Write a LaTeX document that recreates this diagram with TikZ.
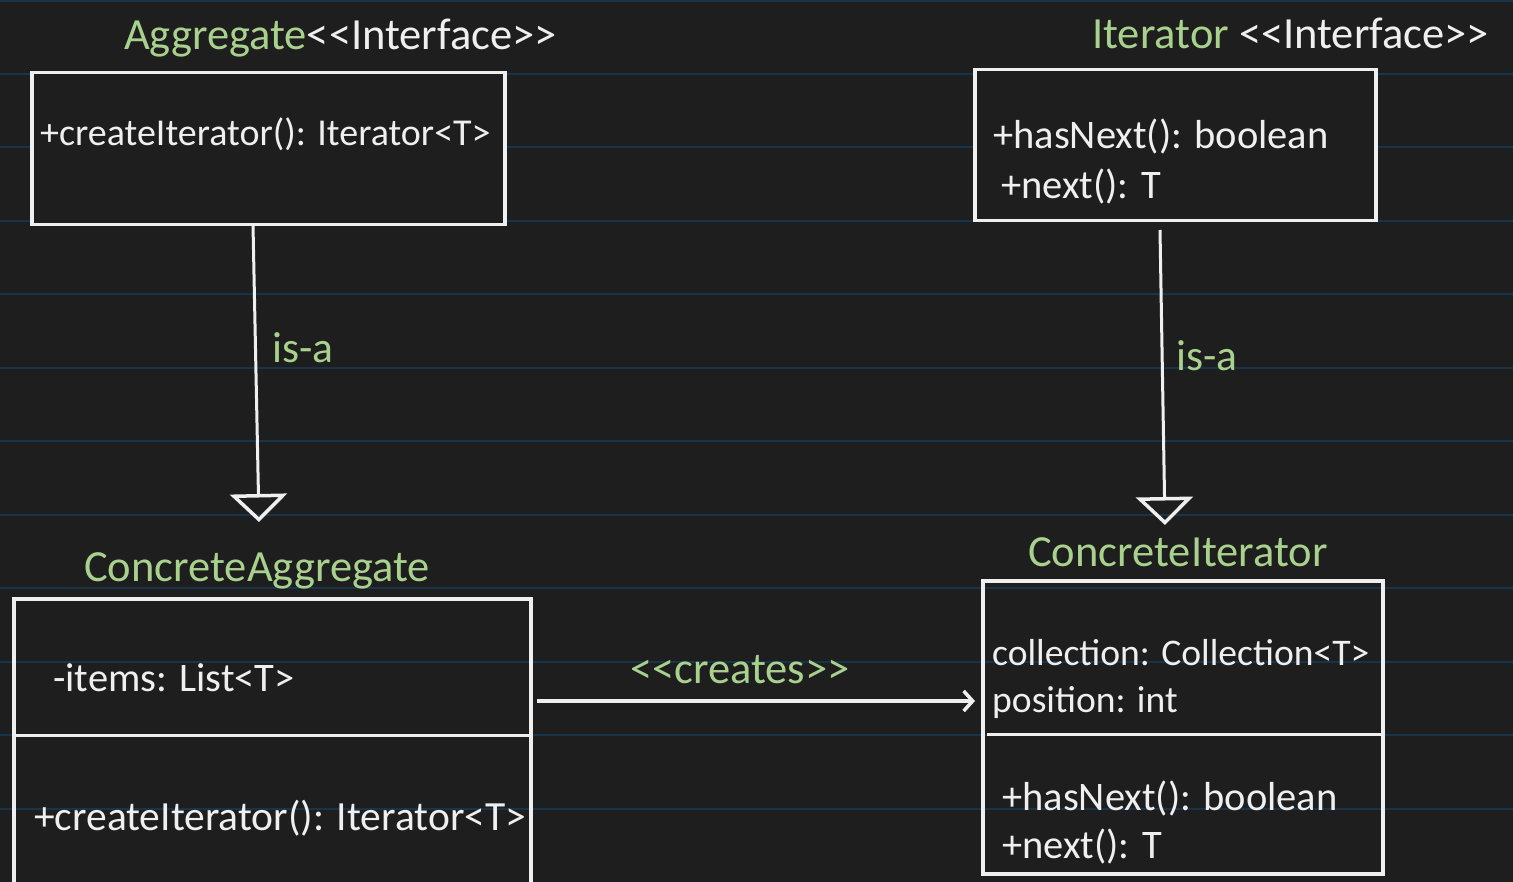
\documentclass[tikz,border=0pt]{standalone}
\usepackage{fontspec}
\setmainfont{Carlito}[Ligatures=TeXOff]
\usetikzlibrary{arrows.meta}
\definecolor{bg}{HTML}{1E1E1E}
\definecolor{gridc}{HTML}{17344A}
\definecolor{lgreen}{HTML}{A9D18E}
\definecolor{fg}{HTML}{EFEFEF}
\begin{document}
\begin{tikzpicture}[x=1pt,y=-1pt,
  box/.style={draw=fg, line width=3.5pt, fill=bg, inner sep=0pt, anchor=north west},
  obox/.style={draw=fg, line width=3.5pt, inner sep=0pt, anchor=north west},
  txt/.style={text=fg, inner sep=0pt, anchor=base west, font=\fontsize{40.5}{48}\selectfont},
  gtxt/.style={text=lgreen, inner sep=0pt, anchor=base west, font=\fontsize{44.5}{52}\selectfont},
  isa/.style={draw=fg, line width=3pt, -{Triangle[open, length=28pt, width=57pt, line width=3.5pt]}},
  creates/.style={draw=fg, line width=3.5pt, -{Straight Barb[length=9pt, width=20pt, line width=3.5pt]}},
  divider/.style={draw=fg, line width=3pt}]
\fill[bg] (0,0) rectangle (1513,882);
\useasboundingbox (0,0) rectangle (1513,882);
\clip (0,0) rectangle (1513,882);
\foreach \y in {1,74,147,221,294,368,441,515,588,662,735,809}
  \draw[gridc, line width=1.5pt] (0,\y) -- (1513,\y);

% top boxes
\node[box, minimum width=473pt, minimum height=152pt] (agg) at (30,71) {};
\node[box, minimum width=401pt, minimum height=151pt] (it) at (973,68) {};
% bottom boxes
\node[obox, minimum width=517pt, minimum height=320pt] (cagg) at (12,597) {};
\node[obox, minimum width=400pt, minimum height=293pt] (cit) at (981,579) {};
\coordinate (caggdl) at (12,735);
\coordinate (caggdr) at (529,735);
\draw[divider] (caggdl) -- (caggdr);
\coordinate (citdl) at (987,734);
\coordinate (citdr) at (1381,734);
\draw[divider] (citdl) -- (citdr);

% titles
\node[gtxt] (aggt) at (124,50) {Aggregate\textcolor{fg}{<<Interface>>}};
\node[gtxt] (itt) at (1092,49) {Iterator \textcolor{fg}{<<Interface>>}};
\node[gtxt] (caggt) at (84,581) {ConcreteAggregate};
\node[gtxt] (citt) at (1028,566) {ConcreteIterator};

% box texts
\node[txt, font=\fontsize{38}{46}\selectfont] (agg1) at (40,146) {+createIterator(): Iterator<T>};
\node[txt] (it1) at (993,149) {+hasNext(): boolean};
\node[txt] (it2) at (1001,199) {+next(): T};
\node[txt] (cagg1) at (53,691) {-items: List<T>};
\node[txt, font=\fontsize{41.5}{48}\selectfont] (cagg2) at (34,830) {+createIterator(): Iterator<T>};
\node[txt, font=\fontsize{37.6}{46}\selectfont] (cit1) at (992,665) {collection: Collection<T>};
\node[txt, font=\fontsize{37.6}{46}\selectfont] (cit2) at (992,712) {position: int};
\node[txt] (cit3) at (1002,810) {+hasNext(): boolean};
\node[txt] (cit4) at (1002,858) {+next(): T};

% connectors
\coordinate (a1) at (253,225);
\coordinate (a2) at (259,522);
\draw[isa] (a1) -- (a2);
\node[gtxt, font=\fontsize{43.5}{50}\selectfont] (isa1) at (272,363) {is-a};
\coordinate (b1) at (1160,230);
\coordinate (b2) at (1165,525);
\draw[isa] (b1) -- (b2);
\node[gtxt, font=\fontsize{43.5}{50}\selectfont] (isa2) at (1176,371) {is-a};
\coordinate (c1) at (537,701);
\coordinate (c2) at (975,701);
\draw[creates] (c1) -- (c2);
\node[gtxt] (cr) at (630,683) {<<creates>>};
\end{tikzpicture}
\end{document}
